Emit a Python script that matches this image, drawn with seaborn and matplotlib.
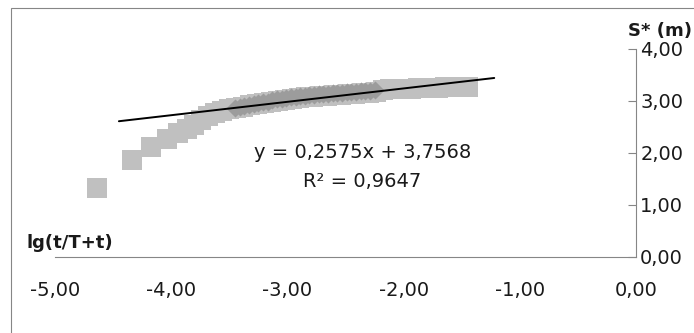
import matplotlib
matplotlib.use("Agg")
import matplotlib.pyplot as plt
import seaborn as sns
import pandas as pd
from matplotlib.patches import Rectangle

# ── data ─────────────────────────────────────────────────────
sq_x = [-4.64, -4.34, -4.17, -4.04, -3.94, -3.86, -3.80, -3.74, -3.68, -3.62,
        -3.56, -3.50, -3.44, -3.38, -3.32, -3.26, -3.20, -3.14, -3.08, -3.02,
        -2.96, -2.90, -2.84, -2.78, -2.72, -2.66, -2.60, -2.54, -2.48, -2.42,
        -2.36, -2.30, -2.24, -2.18, -2.12, -2.06, -2.00, -1.94, -1.88, -1.82,
        -1.76, -1.70, -1.64, -1.58, -1.52, -1.45]
sq_y = [1.33, 1.87, 2.12, 2.27, 2.38, 2.46, 2.54, 2.64, 2.72, 2.77,
        2.81, 2.84, 2.87, 2.89, 2.92, 2.94, 2.96, 2.98, 3.00, 3.02,
        3.04, 3.05, 3.07, 3.08, 3.09, 3.10, 3.11, 3.12, 3.13, 3.14,
        3.15, 3.16, 3.18, 3.21, 3.23, 3.24, 3.24, 3.24, 3.25, 3.25,
        3.25, 3.25, 3.26, 3.26, 3.26, 3.26]

dm_x = [-3.45, -3.41, -3.37, -3.33, -3.29, -3.25, -3.21, -3.17, -3.13, -3.09,
        -3.05, -3.01, -2.97, -2.93, -2.89, -2.85, -2.81, -2.77, -2.73, -2.69,
        -2.65, -2.61, -2.57, -2.53, -2.49, -2.45, -2.41, -2.37, -2.33, -2.29,
        -2.25]
dm_y = [2.86, 2.88, 2.90, 2.92, 2.94, 2.96, 2.98, 2.99, 3.01, 3.03,
        3.04, 3.05, 3.07, 3.08, 3.09, 3.10, 3.11, 3.12, 3.13, 3.13,
        3.14, 3.15, 3.16, 3.16, 3.17, 3.18, 3.18, 3.19, 3.20, 3.20,
        3.21]

# trendline as printed on the chart
slope, intercept = 0.2575, 3.7568
r2 = 0.9647
trend_x = [-4.45, -1.22]

x_ticks = [-5, -4, -3, -2, -1, 0]
y_ticks = [0, 1, 2, 3, 4]

squares = pd.DataFrame({"x": sq_x, "y": sq_y})
diamonds = pd.DataFrame({"x": dm_x, "y": dm_y})
trend = pd.DataFrame({"x": trend_x, "y": [slope * v + intercept for v in trend_x]})

# ── figure ───────────────────────────────────────────────────
sns.set_style("white")
plt.rcParams["font.family"] = ["DejaVu Sans"]

W, H = 694, 333
fig = plt.figure(figsize=(W / 100, H / 100), dpi=100)
fig.patch.set_facecolor("white")

ax_left, ax_right, ax_bottom, ax_top = 55, 636, 257, 49
ax = fig.add_axes([ax_left / W, 1 - ax_bottom / H,
                   (ax_right - ax_left) / W, (ax_bottom - ax_top) / H])
ax.set_facecolor("none")

# outer chart frame (only left and top edges fall inside the picture)
fig.patches.append(Rectangle((11 / W, -0.2), 1.3, 1 - 8 / H + 0.2,
                             transform=fig.transFigure, fill=False,
                             edgecolor="#868686", linewidth=0.8))

sns.scatterplot(data=squares, x="x", y="y", marker="s", s=207,
                color="#C0C0C0", linewidth=0, ax=ax, zorder=2, clip_on=False)
sns.scatterplot(data=diamonds, x="x", y="y", marker="D", s=85,
                color="#9C9C9C", linewidth=0, ax=ax, zorder=3, clip_on=False)
sns.lineplot(data=trend, x="x", y="y", color="black", linewidth=1.4,
             ax=ax, zorder=4)

ax.set_xlim(-5, 0)
ax.set_ylim(0, 4)
ax.set_xticks(x_ticks)
ax.set_yticks(y_ticks)
ax.set_xticklabels([f"{v:.2f}".replace(".", ",") for v in x_ticks])
ax.set_yticklabels([f"{v:.2f}".replace(".", ",") for v in y_ticks])
ax.set_xlabel("")
ax.set_ylabel("")

for side in ["left", "top"]:
    ax.spines[side].set_visible(False)
for side in ["right", "bottom"]:
    ax.spines[side].set_color("#868686")
    ax.spines[side].set_linewidth(0.8)

ax.yaxis.tick_right()
ax.tick_params(axis="x", direction="out", length=4.5, width=0.8,
               color="#868686", labelsize=14, labelcolor="#1a1a1a", pad=13)
ax.tick_params(axis="y", direction="in", length=5.5, width=0.8,
               color="#868686", labelsize=14, labelcolor="#1a1a1a", pad=3)

ax.text(-2.35, 2.0, f"y = {slope:.4f}x + {intercept:.4f}".replace(".", ","),
        ha="center", va="center", fontsize=14, color="#1a1a1a")
ax.text(-2.36, 1.46, f"R² = {r2:.4f}".replace(".", ","),
        ha="center", va="center", fontsize=14, color="#1a1a1a")

fig.text(26 / W, 1 - 248 / H, "lg(t/T+t)", fontsize=13, fontweight="bold",
         ha="left", va="baseline", color="#1a1a1a")
fig.text(628 / W, 1 - 31 / H, "S* (m)", fontsize=13, fontweight="bold",
         ha="left", va="center", color="#1a1a1a")

fig.savefig("out.png", dpi=100)
